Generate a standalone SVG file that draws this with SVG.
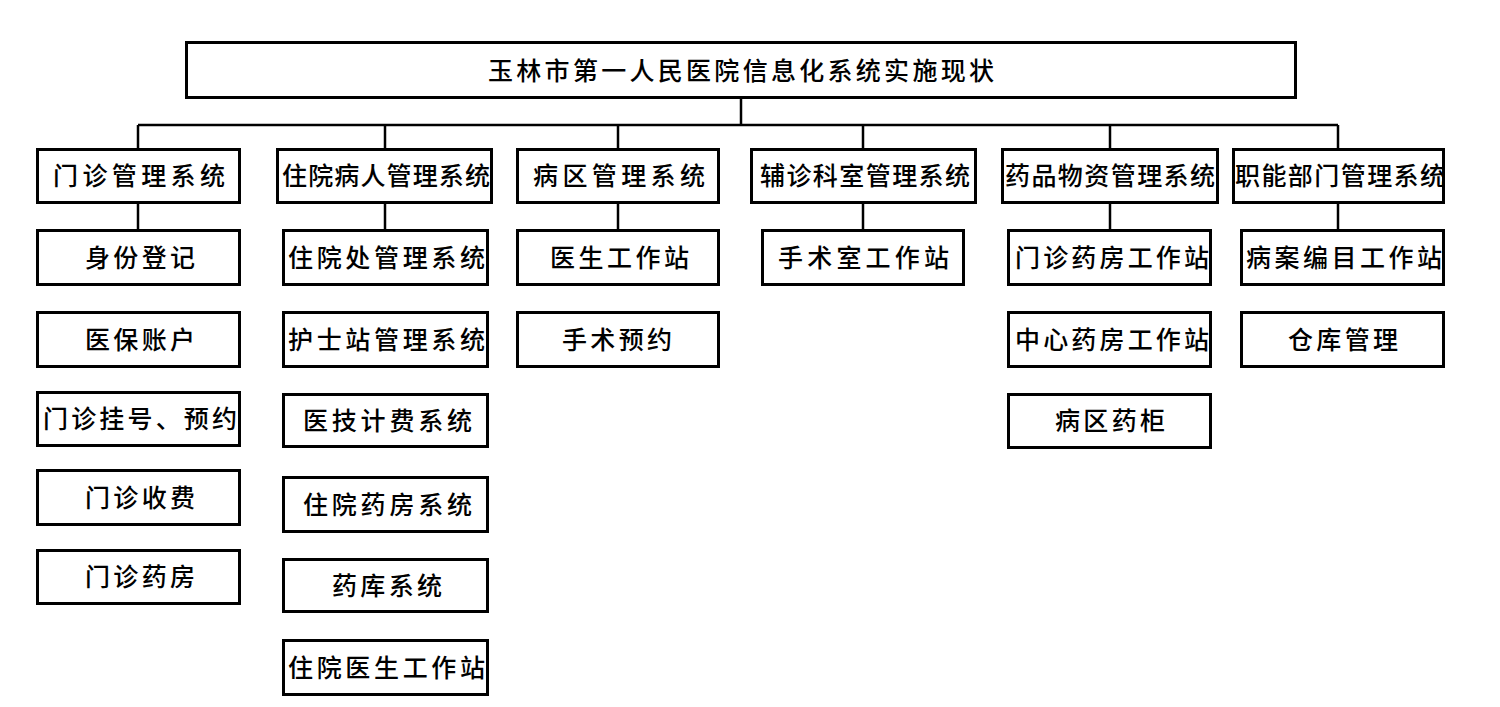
<svg xmlns="http://www.w3.org/2000/svg" width="1500" height="707" viewBox="0 0 1500 707">
<style>
rect{fill:#fff;stroke:#000;stroke-width:3}
text{font-family:"Noto Sans CJK SC","Noto Sans",sans-serif;font-size:25px;font-weight:500;fill:#000}
.c line{stroke:#000;stroke-width:2.5}
</style>
<rect x="0" y="0" width="1500" height="707" style="stroke:none"/>
<g class="c" id="connectors">
<line x1="741" y1="99" x2="741" y2="125"/>
<line x1="138" y1="125" x2="1338" y2="125"/>
<line x1="138" y1="125" x2="138" y2="148"/>
<line x1="385" y1="125" x2="385" y2="148"/>
<line x1="618" y1="125" x2="618" y2="148"/>
<line x1="863" y1="125" x2="863" y2="148"/>
<line x1="1110" y1="125" x2="1110" y2="148"/>
<line x1="1338" y1="125" x2="1338" y2="148"/>
<line x1="138" y1="204" x2="138" y2="229"/>
<line x1="385" y1="204" x2="385" y2="229"/>
<line x1="618" y1="204" x2="618" y2="229"/>
<line x1="863" y1="204" x2="863" y2="229"/>
<line x1="1110" y1="204" x2="1110" y2="229"/>
<line x1="1338" y1="204" x2="1338" y2="229"/>
</g>
<g id="root"><rect x="186.5" y="42.5" width="1109" height="55"/><text x="488" y="80" textLength="506" lengthAdjust="spacing">玉林市第一人民医院信息化系统实施现状</text></g>
<g id="n1"><rect x="37.5" y="149.5" width="202" height="53"/><text x="53" y="185" textLength="172" lengthAdjust="spacing">门诊管理系统</text></g>
<g id="n2"><rect x="277.5" y="149.5" width="214" height="53"/><text x="282" y="185" textLength="208" lengthAdjust="spacing">住院病人管理系统</text></g>
<g id="n3"><rect x="517.5" y="149.5" width="201" height="53"/><text x="533" y="185" textLength="172" lengthAdjust="spacing">病区管理系统</text></g>
<g id="n4"><rect x="751.5" y="149.5" width="224" height="53"/><text x="760" y="185" textLength="210" lengthAdjust="spacing">辅诊科室管理系统</text></g>
<g id="n5"><rect x="1002.5" y="149.5" width="215" height="53"/><text x="1005" y="185" textLength="210" lengthAdjust="spacing">药品物资管理系统</text></g>
<g id="n6"><rect x="1233.5" y="149.5" width="210" height="53"/><text x="1235" y="185" textLength="210" lengthAdjust="spacing">职能部门管理系统</text></g>

<g id="a1"><rect x="37.5" y="230.5" width="202" height="54"/><text x="85" y="267" textLength="110" lengthAdjust="spacing">身份登记</text></g>
<g id="a2"><rect x="37.5" y="312.5" width="202" height="54"/><text x="85" y="349" textLength="110" lengthAdjust="spacing">医保账户</text></g>
<g id="a3"><rect x="37.5" y="392.5" width="202" height="53"/><text x="43" y="428" textLength="194" lengthAdjust="spacing">门诊挂号、预约</text></g>
<g id="a4"><rect x="37.5" y="470.5" width="202" height="54"/><text x="85" y="507" textLength="110" lengthAdjust="spacing">门诊收费</text></g>
<g id="a5"><rect x="37.5" y="550.5" width="202" height="53"/><text x="85" y="586" textLength="110" lengthAdjust="spacing">门诊药房</text></g>

<g id="b1"><rect x="283.5" y="230.5" width="204" height="54"/><text x="288" y="267" textLength="197" lengthAdjust="spacing">住院处管理系统</text></g>
<g id="b2"><rect x="283.5" y="312.5" width="204" height="54"/><text x="288" y="349" textLength="197" lengthAdjust="spacing">护士站管理系统</text></g>
<g id="b3"><rect x="283.5" y="394.5" width="204" height="52"/><text x="303" y="430" textLength="169" lengthAdjust="spacing">医技计费系统</text></g>
<g id="b4"><rect x="283.5" y="477.5" width="204" height="54"/><text x="303" y="514" textLength="169" lengthAdjust="spacing">住院药房系统</text></g>
<g id="b5"><rect x="283.5" y="559.5" width="204" height="52"/><text x="332" y="595" textLength="110" lengthAdjust="spacing">药库系统</text></g>
<g id="b6"><rect x="283.5" y="640.5" width="204" height="54"/><text x="288" y="677" textLength="197" lengthAdjust="spacing">住院医生工作站</text></g>

<g id="c1"><rect x="517.5" y="230.5" width="201" height="54"/><text x="550" y="267" textLength="139" lengthAdjust="spacing">医生工作站</text></g>
<g id="c2"><rect x="517.5" y="312.5" width="201" height="54"/><text x="562" y="349" textLength="110" lengthAdjust="spacing">手术预约</text></g>

<g id="d1"><rect x="762.5" y="230.5" width="201" height="54"/><text x="778" y="267" textLength="171" lengthAdjust="spacing">手术室工作站</text></g>

<g id="e1"><rect x="1008.5" y="230.5" width="202" height="54"/><text x="1015" y="267" textLength="194" lengthAdjust="spacing">门诊药房工作站</text></g>
<g id="e2"><rect x="1008.5" y="312.5" width="202" height="54"/><text x="1015" y="349" textLength="194" lengthAdjust="spacing">中心药房工作站</text></g>
<g id="e3"><rect x="1008.5" y="394.5" width="202" height="53"/><text x="1055" y="430" textLength="110" lengthAdjust="spacing">病区药柜</text></g>

<g id="f1"><rect x="1241.5" y="230.5" width="202" height="54"/><text x="1246" y="267" textLength="196" lengthAdjust="spacing">病案编目工作站</text></g>
<g id="f2"><rect x="1241.5" y="312.5" width="202" height="54"/><text x="1288" y="349" textLength="110" lengthAdjust="spacing">仓库管理</text></g>
</svg>
